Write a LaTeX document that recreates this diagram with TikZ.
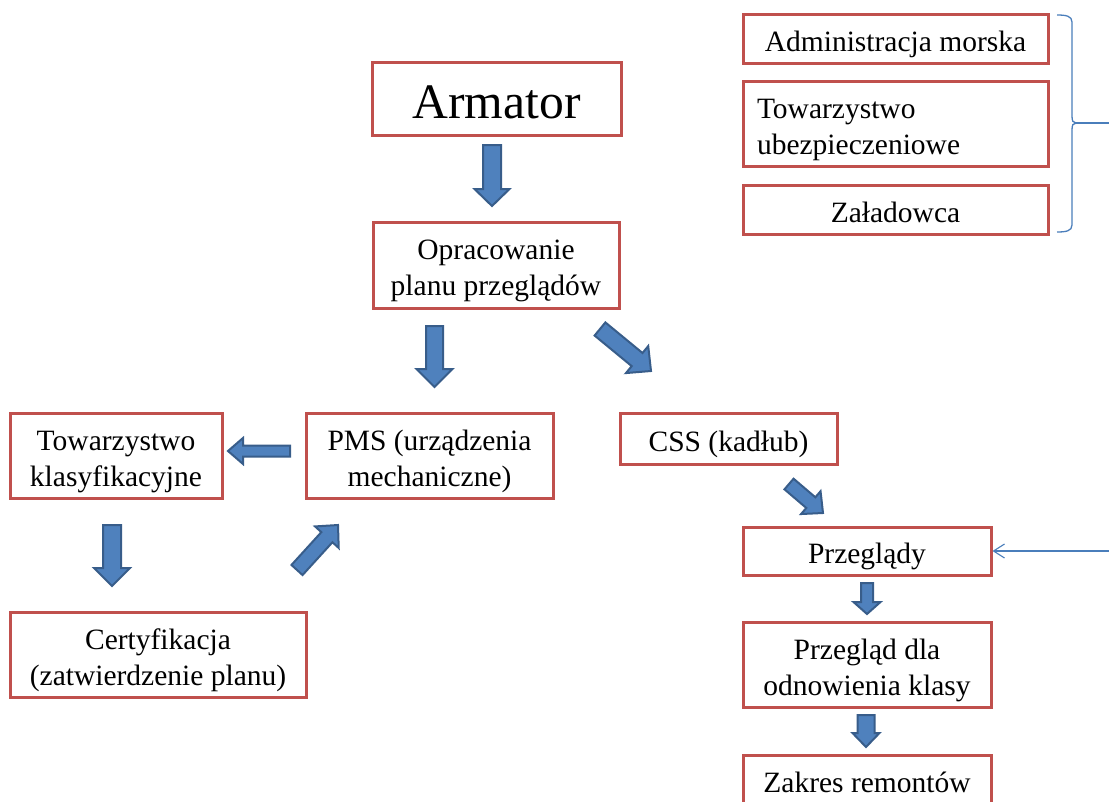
\documentclass[tikz,border=0pt]{standalone}
\usepackage{fontspec}
\setmainfont{Liberation Serif}
\usetikzlibrary{calc,arrows.meta}
\definecolor{boxred}{HTML}{C0504D}
\definecolor{arrfill}{HTML}{4F81BD}
\definecolor{arrdraw}{HTML}{385D8A}
\definecolor{linkblue}{HTML}{4A7EBB}
\newcommand\wstrutA{\rule{0pt}{32.3pt}}
\newcommand\wstrutB{\rule[-6.4pt]{0pt}{6.4pt}}
\newcommand\bigstrutA{\rule{0pt}{50.2pt}}
\newcommand\bigstrutB{\rule[-10.7pt]{0pt}{10.7pt}}
\newcommand\blockarrow[5]{%
  \coordinate (hb) at ($(#2)!#5!(#1)$);
  \draw[blockarr] ($(#1)!#3!90:(#2)$) -- ($(hb)!#3!90:(#2)$) -- ($(hb)!#4!90:(#2)$)
    -- (#2) -- ($(hb)!#4!-90:(#2)$) -- ($(hb)!#3!-90:(#2)$) -- ($(#1)!#3!-90:(#2)$) -- cycle;
}
\begin{document}
\begin{tikzpicture}[x=1pt,y=-1pt,
  redbox/.style={draw=boxred, line width=3pt, inner sep=0pt, align=center,
    font=\fontsize{29.5}{36}\selectfont},
  onebox/.style={redbox,
    execute at begin node=\wstrutA, execute at end node=\wstrutB},
  bigbox/.style={redbox, font=\fontsize{49.6}{56}\selectfont,
    execute at begin node=\bigstrutA, execute at end node=\bigstrutB},
  blockarr/.style={fill=arrfill, draw=arrdraw, line width=2pt, line join=miter},
  thinblue/.style={draw=linkblue, line width=1.3pt}]
\clip (0,0) rectangle (1109,801);
\fill[white] (0,0) rectangle (1109,801);

% boxes
\node[bigbox, minimum width=249pt, minimum height=73pt] (armator) at (496.5,98.5) {Armator};
\node[redbox, minimum width=246pt, minimum height=86pt] (oprac) at (496,265) {\wstrutA Opracowanie\\planu przeglądów\wstrutB};
\node[onebox, minimum width=305pt, minimum height=49pt] (adm) at (895.5,38.5) {Administracja morska};
\node[redbox, minimum height=85pt, text width=277pt, inner xsep=14pt, align=left] (ubez) at (895.5,123.5) {\wstrutA Towarzystwo\\ubezpieczeniowe\wstrutB};
\node[onebox, minimum width=305pt, minimum height=49pt] (zal) at (895.5,209.5) {Załadowca};
\node[redbox, minimum width=212pt, minimum height=85pt] (tkl) at (116,455.5) {\wstrutA Towarzystwo\\klasyfikacyjne\wstrutB};
\node[redbox, minimum width=247pt, minimum height=85pt] (pms) at (429.5,455.5) {\wstrutA PMS (urządzenia\\mechaniczne)\wstrutB};
\node[onebox, minimum width=217pt, minimum height=51pt] (css) at (728.5,438.5) {CSS (kadłub)};
\node[onebox, minimum width=248pt, minimum height=48pt] (przeg) at (867,551) {Przeglądy};
\node[redbox, minimum width=248pt, minimum height=85pt] (odn) at (867,664.5) {\wstrutA Przegląd dla\\odnowienia klasy\wstrutB};
\node[onebox, minimum width=248pt, minimum height=49pt] (zakres) at (867,779.5) {Zakres remontów};
\node[redbox, minimum width=296pt, minimum height=85pt] (cert) at (158,654.5) {\wstrutA Certyfikacja\\(zatwierdzenie planu)\wstrutB};

% block arrows
\coordinate (a1s) at (492,145);   \coordinate (a1e) at (492,206);
\coordinate (a2s) at (434.5,326); \coordinate (a2e) at (434.5,387);
\coordinate (a3s) at (600,329);   \coordinate (a3e) at (651,371);
\coordinate (a4s) at (290,451);   \coordinate (a4e) at (228,451);
\coordinate (a5s) at (112,525);   \coordinate (a5e) at (112,586);
\coordinate (a6s) at (297,570);   \coordinate (a6e) at (338,525);
\coordinate (a7s) at (789,484);   \coordinate (a7e) at (823,513);
\coordinate (a8s) at (867,583);   \coordinate (a8e) at (867,614);
\coordinate (a9s) at (866,715);   \coordinate (a9e) at (866,747);

\blockarrow{a1s}{a1e}{9pt}{17.5pt}{17pt}
\blockarrow{a2s}{a2e}{8.5pt}{18pt}{18pt}
\blockarrow{a3s}{a3e}{8.5pt}{17.5pt}{18pt}
\blockarrow{a4s}{a4e}{5.5pt}{13pt}{15pt}
\blockarrow{a5s}{a5e}{9pt}{18pt}{18pt}
\blockarrow{a6s}{a6e}{7.5pt}{16pt}{16.5pt}
\blockarrow{a7s}{a7e}{7pt}{15pt}{16pt}
\blockarrow{a8s}{a8e}{6pt}{13.5pt}{12pt}
\blockarrow{a9s}{a9e}{8.5pt}{13.5pt}{14pt}

% brace
\coordinate (btip) at (1076,123);
\coordinate (bend) at (1109,123);
\draw[thinblue] (1057,15) .. controls (1066,15) and (1072,16) .. (1072,22)
  -- (1072,116) .. controls (1072,121) and (1073,123) .. (btip)
  .. controls (1073,123) and (1072,125) .. (1072,130)
  -- (1072,225) .. controls (1072,231) and (1066,232) .. (1057,232);
\draw[thinblue] (btip) -- (bend);

% thin arrow
\coordinate (tstart) at (1109,551);
\draw[thinblue, -{Straight Barb[length=11pt,width=14pt,line width=1.1pt]}] (tstart) -- (przeg.east);
\end{tikzpicture}
\end{document}
